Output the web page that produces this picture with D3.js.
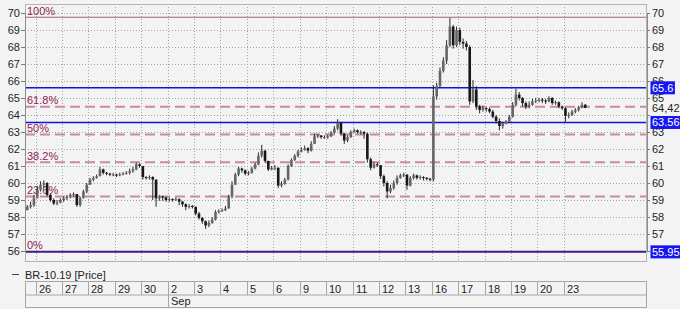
<!DOCTYPE html>
<html>
<head>
<meta charset="utf-8">
<script src="https://cdn.jsdelivr.net/npm/d3@7"></script>
<style>
  body { margin: 0; background: #f3f3f3; }
  svg { display: block; font-family: "Liberation Sans", Arial, sans-serif; font-size: 11px; }
</style>
</head>
<body>
<svg id="chart" width="680" height="309"></svg>
<script>
// ---- data ----
const seriesName = "BR-10.19 [Price]";
const dayLabels = ["26", "27", "28", "29", "30", "2", "3", "4", "5", "6", "9", "10", "11", "12", "13", "16", "17", "18", "19", "20", "23"];
const monthLabels = ["", "Sep"];
const monthStartDay = [-1, 5];          // -1 = cell starts at left edge
const priceTicks = [56, 57, 58, 59, 60, 61, 62, 63, 64, 65, 66, 67, 68, 69, 70];
const hiddenRightTicks = [64, 56];       // covered by the price labels
const fibRatios = [1, 0.618, 0.5, 0.382, 0.236, 0];
const fibLabels = ["100%", "61.8%", "50%", "38.2%", "23.6%", "0%"];
const fibHigh = 69.75;
const fibLow = 55.95;
const blueLines = [65.6, 63.56];
const markerValues = [65.6, 63.56, 55.95];
const lastPrice = 64.42;

// 8 bars per session, first 3 bars are the tail of the previous session
const barsPerDay = 8;
const firstBarSlot = -3;
const closes = [
  58.6, 58.7, 59.1,
  59.6, 59.9, 60.0, 59.3, 59.0, 58.8, 58.85, 59.0,
  59.1, 59.2, 59.3, 59.35, 58.7, 59.1, 59.5, 59.9,
  60.2, 60.3, 60.4, 60.8, 60.6, 60.55, 60.5, 60.5,
  60.45, 60.5, 60.55, 60.6, 60.7, 60.8, 61.1, 61.0,
  60.35, 60.3, 60.35, 60.2, 59.1, 59.2, 59.15, 59.0,
  59.05, 59.0, 59.05, 58.9, 58.75, 58.6, 58.65, 58.6,
  58.2, 57.95, 57.75, 57.5, 57.65, 57.85, 58.3, 58.35,
  58.4, 58.5, 59.2, 59.9, 60.5, 60.85, 60.75, 60.55,
  60.6, 60.85, 61.1, 61.6, 61.9, 61.3, 60.8, 60.9,
  60.9, 59.85, 59.95, 60.2, 61.0, 61.35, 61.6, 61.85,
  61.95, 62.05, 61.9, 62.3, 62.75, 62.8, 62.7, 62.7,
  62.75, 62.95, 63.2, 63.55, 62.9, 62.5, 62.7, 63.0,
  63.1, 63.0, 63.0, 62.9, 61.4, 60.9, 61.1, 61.05,
  60.4, 60.0, 59.5, 59.7, 60.0, 60.3, 60.45, 60.5,
  59.85, 60.3, 60.45, 60.3, 60.35, 60.3, 60.25, 60.2,
  65.1, 65.7, 66.6, 67.2, 68.1, 69.2, 68.1, 69.0,
  68.3, 68.2, 68.0, 64.8, 65.5, 64.5, 64.3, 64.4,
  64.35, 64.2, 63.9, 63.65, 63.35, 63.5, 63.6, 63.9,
  64.6, 65.2, 65.0, 64.7, 64.5, 64.6, 64.8, 64.85,
  64.9, 64.85, 64.8, 65.0, 64.7, 64.75, 64.5, 64.4,
  63.95, 64.0, 64.2, 64.3, 64.45, 64.6, 64.42
];
const highs = [
  58.7, 58.9, 59.3,
  59.8, 60.1, 60.15, 60.05, 59.4, 59.1, 59.0, 59.1,
  59.2, 59.3, 59.4, 59.45, 59.35, 59.2, 59.6, 60.0,
  60.3, 60.4, 60.5, 60.95, 60.85, 60.65, 60.6, 60.6,
  60.55, 60.6, 60.65, 60.7, 60.85, 60.95, 61.2, 61.15,
  60.45, 60.4, 60.45, 60.4, 60.2, 59.3, 59.25, 59.2,
  59.15, 59.1, 59.15, 59.1, 58.95, 58.8, 58.75, 58.7,
  58.6, 58.3, 58.0, 57.8, 57.8, 58.0, 58.4, 58.45,
  58.5, 58.65, 59.3, 60.1, 60.6, 60.95, 60.9, 60.8,
  60.7, 60.95, 61.2, 61.8, 62.25, 61.95, 61.3, 61.0,
  61.05, 60.9, 60.1, 60.3, 61.1, 61.45, 61.7, 61.95,
  62.1, 62.2, 62.1, 62.45, 62.9, 62.9, 62.8, 62.8,
  62.85, 63.05, 63.35, 63.75, 63.6, 62.95, 62.8, 63.1,
  63.2, 63.15, 63.1, 63.05, 62.95, 61.5, 61.25, 61.2,
  61.05, 60.5, 60.1, 59.9, 60.15, 60.45, 60.55, 60.6,
  60.5, 60.4, 60.55, 60.5, 60.45, 60.4, 60.35, 60.3,
  65.75, 65.9, 66.8, 67.4, 68.4, 69.7, 69.3, 69.2,
  69.15, 68.5, 68.35, 68.1, 66.05, 65.7, 64.6, 64.55,
  64.5, 64.45, 64.3, 64.0, 63.8, 63.6, 63.7, 64.0,
  64.75, 65.55, 65.35, 65.05, 64.8, 64.8, 64.95, 65.0,
  65.0, 65.0, 64.95, 65.1, 65.05, 64.85, 64.8, 64.55,
  64.45, 64.15, 64.3, 64.4, 64.55, 64.75, 64.65
];
const lows = [
  58.4, 58.5, 58.6,
  59.1, 59.5, 59.7, 59.2, 58.9, 58.7, 58.7, 58.8,
  58.9, 59.0, 59.1, 59.2, 58.6, 58.6, 59.1, 59.4,
  59.9, 60.1, 60.25, 60.4, 60.5, 60.45, 60.4, 60.4,
  60.35, 60.4, 60.45, 60.5, 60.5, 60.6, 60.75, 60.9,
  60.2, 60.2, 60.2, 59.0, 58.6, 58.95, 58.95, 58.9,
  58.9, 58.9, 58.95, 58.7, 58.6, 58.4, 58.5, 58.5,
  58.1, 57.85, 57.6, 57.3, 57.4, 57.6, 57.8, 58.2,
  58.3, 58.35, 58.5, 59.1, 59.9, 60.4, 60.6, 60.45,
  60.45, 60.55, 60.8, 61.05, 61.5, 61.2, 60.7, 60.75,
  60.75, 59.7, 59.75, 59.9, 60.15, 60.95, 61.3, 61.5,
  61.8, 61.9, 61.75, 61.85, 62.3, 62.65, 62.6, 62.6,
  62.6, 62.7, 62.9, 63.1, 62.8, 62.3, 62.4, 62.65,
  62.95, 62.9, 62.85, 62.6, 61.2, 60.75, 60.85, 60.95,
  60.25, 59.8, 59.1, 59.4, 59.6, 59.9, 60.25, 60.35,
  59.6, 59.8, 60.2, 60.2, 60.2, 60.15, 60.15, 60.1,
  60.1, 64.9, 65.6, 66.5, 67.0, 68.0, 67.9, 68.0,
  68.1, 67.9, 67.8, 64.6, 64.7, 64.3, 64.1, 64.2,
  64.2, 64.1, 63.8, 63.5, 63.1, 63.2, 63.45, 63.55,
  63.85, 64.5, 64.85, 64.5, 64.35, 64.4, 64.55, 64.7,
  64.75, 64.7, 64.65, 64.75, 64.6, 64.6, 64.4, 64.3,
  63.6, 63.8, 63.95, 64.1, 64.2, 64.4, 64.4
];

// ---- layout ----
const svg = d3.select("#chart");
const plot = {left: 25, right: 647, top: 4, bottom: 262};
const x = d3.scaleLinear().domain([-0.4, 23.15]).range([plot.left, plot.right]);
const y = d3.scaleLinear().domain([56, 70]).range([251, 13]);

svg.append("defs").append("clipPath").attr("id", "plotClip")
  .append("rect")
  .attr("x", plot.left).attr("y", plot.top)
  .attr("width", plot.right - plot.left).attr("height", plot.bottom - plot.top);

const g = svg.append("g").attr("clip-path", "url(#plotClip)");

// grid
g.selectAll("line.hgrid").data(priceTicks).join("line")
  .attr("class", "hgrid")
  .attr("x1", plot.left).attr("x2", plot.right)
  .attr("y1", d => Math.round(y(d)) + 0.5).attr("y2", d => Math.round(y(d)) + 0.5)
  .attr("stroke", "#a4a4a4").attr("stroke-dasharray", "1,2");

g.selectAll("line.vgrid").data(dayLabels).join("line")
  .attr("class", "vgrid")
  .attr("x1", (d, i) => Math.round(x(i)) + 0.5).attr("x2", (d, i) => Math.round(x(i)) + 0.5)
  .attr("y1", plot.top).attr("y2", plot.bottom)
  .attr("stroke", "#a4a4a4").attr("stroke-dasharray", "1,2");

// fibonacci levels
const fibData = fibRatios.map((r, i) => ({value: fibLow + r * (fibHigh - fibLow), label: fibLabels[i], ratio: r}));

g.selectAll("line.fib").data(fibData).join("line")
  .attr("class", "fib")
  .attr("x1", plot.left).attr("x2", plot.right)
  .attr("y1", d => y(d.value)).attr("y2", d => y(d.value))
  .attr("stroke", d => d.ratio === 1 ? "#a8607e" : d.ratio === 0 ? "#3f1d82" : "#c98aa5")
  .attr("stroke-width", d => d.ratio === 1 ? 1 : 2)
  .attr("stroke-dasharray", d => (d.ratio === 1 || d.ratio === 0) ? null : "10,5");

// blue horizontal lines
g.selectAll("line.blue").data(blueLines).join("line")
  .attr("class", "blue")
  .attr("x1", plot.left).attr("x2", plot.right)
  .attr("y1", d => y(d)).attr("y2", d => y(d))
  .attr("stroke", "#1010e8").attr("stroke-width", 1.5);

g.selectAll("text.fib").data(fibData).join("text")
  .attr("class", "fib")
  .attr("x", plot.left + 2)
  .attr("y", d => y(d.value) - 2.5)
  .attr("fill", "#8e2456")
  .text(d => d.label);

// candles
const bars = closes.map((c, i) => ({
  pos: (firstBarSlot + i + 0.5) / barsPerDay,
  open: i === 0 ? lows[0] : closes[i - 1],
  close: c,
  high: highs[i],
  low: lows[i]
}));

const candle = g.append("g").selectAll("g").data(bars).join("g");
candle.append("line")
  .attr("x1", d => x(d.pos)).attr("x2", d => x(d.pos))
  .attr("y1", d => y(d.high)).attr("y2", d => y(d.low))
  .attr("stroke", "#2a2a2a").attr("stroke-width", 1);
candle.append("rect")
  .attr("x", d => x(d.pos) - 1.3)
  .attr("width", 2.6)
  .attr("y", d => y(Math.max(d.open, d.close)))
  .attr("height", d => Math.max(1, Math.abs(y(d.open) - y(d.close))))
  .attr("fill", d => d.close >= d.open ? "#666" : "#181818");

// plot frame
svg.append("rect")
  .attr("x", plot.left + 0.5).attr("y", plot.top + 0.5)
  .attr("width", plot.right - plot.left - 1).attr("height", plot.bottom - plot.top - 1)
  .attr("fill", "none").attr("stroke", "#b4b4b4");

// axes
const leftAxis = svg.append("g")
  .attr("transform", `translate(${plot.left},0)`)
  .call(d3.axisLeft(y).tickValues(priceTicks).tickSize(4).tickPadding(1).tickFormat(d3.format("d")));
const rightAxis = svg.append("g")
  .attr("transform", `translate(${plot.right},0)`)
  .call(d3.axisRight(y).tickValues(priceTicks).tickSize(3).tickPadding(2)
    .tickFormat(d => hiddenRightTicks.includes(d) ? "" : d));
[leftAxis, rightAxis].forEach(a => {
  a.select(".domain").attr("stroke", "#8c8c8c");
  a.selectAll(".tick line").attr("stroke", "#7a7a7a");
  a.selectAll("text").attr("fill", "#1e1e1e").style("font-size", "11px")
    .style("font-family", '"Liberation Sans", Arial, sans-serif');
});

// price markers on the right
const markers = svg.append("g").selectAll("g").data(markerValues).join("g")
  .attr("transform", d => `translate(${plot.right + 3.5},${y(d)})`);
markers.append("rect").attr("y", -6.5).attr("height", 13).attr("fill", "#1616f0");
markers.append("text").attr("x", 1.5).attr("dy", "0.36em").attr("fill", "#ffffff").text(d => d);
markers.each(function () {
  const t = d3.select(this).select("text").node();
  d3.select(this).select("rect").attr("width", t.getComputedTextLength() + 3);
});

svg.append("text")
  .attr("x", plot.right + 5).attr("y", y(lastPrice)).attr("dy", "0.36em")
  .attr("fill", "#1e1e1e")
  .text(String(lastPrice).replace(".", ","));

// legend
svg.append("line").attr("x1", 12).attr("x2", 19).attr("y1", 274.5).attr("y2", 274.5)
  .attr("stroke", "#444");
svg.append("text").attr("x", 25).attr("y", 278.5).attr("fill", "#1e1e1e").text(seriesName);

// date axis
const row1 = 281.5, row2 = 295, row3 = 307.5;
const dateAxis = svg.append("g");
dateAxis.append("rect")
  .attr("x", plot.left + 0.5).attr("y", row1)
  .attr("width", plot.right - plot.left - 1).attr("height", row3 - row1)
  .attr("fill", "none").attr("stroke", "#a6a6a6");
dateAxis.append("line")
  .attr("x1", plot.left).attr("x2", plot.right).attr("y1", row2).attr("y2", row2)
  .attr("stroke", "#a6a6a6");

dateAxis.selectAll("line.day").data(dayLabels).join("line")
  .attr("class", "day")
  .attr("x1", (d, i) => Math.round(x(i)) + 0.5).attr("x2", (d, i) => Math.round(x(i)) + 0.5)
  .attr("y1", row1).attr("y2", row2)
  .attr("stroke", "#a6a6a6");
dateAxis.selectAll("text.day").data(dayLabels).join("text")
  .attr("class", "day")
  .attr("x", (d, i) => Math.round(x(i)) + 3)
  .attr("y", 292.5)
  .attr("fill", "#1e1e1e")
  .text(d => d);

const months = monthLabels.map((m, i) => ({label: m, start: monthStartDay[i]}));
dateAxis.selectAll("line.month").data(months.filter(m => m.start >= 0)).join("line")
  .attr("class", "month")
  .attr("x1", d => Math.round(x(d.start)) + 0.5).attr("x2", d => Math.round(x(d.start)) + 0.5)
  .attr("y1", row2).attr("y2", row3)
  .attr("stroke", "#a6a6a6");
dateAxis.selectAll("text.month").data(months).join("text")
  .attr("class", "month")
  .attr("x", d => (d.start >= 0 ? Math.round(x(d.start)) : plot.left) + 3)
  .attr("y", 305)
  .attr("fill", "#1e1e1e")
  .text(d => d.label);
</script>
</body>
</html>
